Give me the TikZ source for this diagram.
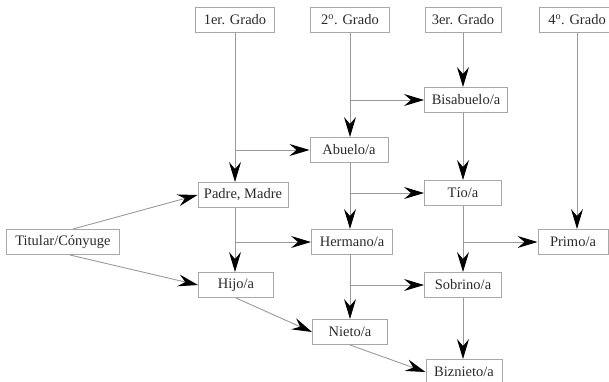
\documentclass[tikz,border=0pt]{standalone}
\usepackage{fontspec}
\setmainfont{Liberation Serif}
\usetikzlibrary{arrows.meta}
\definecolor{boxc}{HTML}{A8A8A8}
\definecolor{linec}{HTML}{9A9A9A}
\definecolor{txtc}{HTML}{2A2A2A}
\begin{document}
\begin{tikzpicture}[x=1pt,y=-1pt,
  box/.style={draw=boxc, line width=1pt, rectangle, minimum height=25pt, inner xsep=4pt, inner ysep=2pt,
    font=\fontsize{14.5}{16}\selectfont, text=txtc},
  conn/.style={draw=linec, line width=0.9pt, -{Stealth[length=20pt,width=12pt,inset=7pt,fill=black,color=black]}},
  plain/.style={draw=linec, line width=0.9pt}]
\useasboundingbox (0,0) rectangle (609,381);
\clip (0,0) rectangle (609,381);
% nodes
\node[box, minimum width=79pt] (g1) at (235,20) {1er. Grado};
\node[box, minimum width=79pt] (g2) at (350,20) {2\textsuperscript{o}. Grado};
\node[box, minimum width=76pt] (g3) at (463,20) {3er. Grado};
\node[box, minimum width=76pt] (g4) at (577,20) {4\textsuperscript{o}. Grado};
\node[box, minimum width=83pt] (bis) at (466,100) {Bisabuelo/a};
\node[box, minimum width=78pt] (abu) at (349,150) {Abuelo/a};
\node[box, minimum width=77pt] (tio) at (463,193) {Tío/a};
\node[box, minimum width=90pt] (padre) at (243,195) {Padre, Madre};
\node[box, minimum width=113pt] (tit) at (63,242) {Titular/Cónyuge};
\node[box, minimum width=75pt] (hijo) at (236,285) {Hijo/a};
\node[box, minimum width=81pt] (herm) at (352,242) {Hermano/a};
\node[box, minimum width=70pt] (primo) at (573,242) {Primo/a};
\node[box, minimum width=77pt] (sob) at (463,285) {Sobrino/a};
\node[box, minimum width=75pt] (nieto) at (350,332) {Nieto/a};
\node[box, minimum width=76pt] (biz) at (464,372) {Biznieto/a};
% vertical trunks
\draw[conn] (g1.south) -- (g1 |- padre.north);
\draw[conn] (g1 |- padre.south) -- (g1 |- hijo.north);
\draw[conn] (g2.south) -- (g2 |- abu.north);
\draw[conn] (g2 |- abu.south) -- (g2 |- herm.north);
\draw[conn] (g2 |- herm.south) -- (g2 |- nieto.north);
\draw[conn] (g3.south) -- (g3 |- bis.north);
\draw[conn] (g3 |- bis.south) -- (g3 |- tio.north);
\draw[conn] (g3 |- tio.south) -- (g3 |- sob.north);
\draw[conn] (g3 |- sob.south) -- (g3 |- biz.north);
\draw[conn] (g4.south) -- (g4 |- primo.north);
% branches
\draw[conn] (g1 |- abu.west) -- (abu.west);
\draw[conn] (g2 |- bis.west) -- (bis.west);
\draw[conn] (g2 |- tio.west) -- (tio.west);
\draw[conn] (g1 |- herm.west) -- (herm.west);
\draw[conn] (g3 |- primo.west) -- (primo.west);
\draw[conn] (g2 |- sob.west) -- (sob.west);
% diagonals
\draw[conn] ([xshift=10pt]tit.north) -- (padre.west);
\draw[conn] ([xshift=7pt]tit.south) -- (hijo.west);
\draw[conn] (hijo.south) -- (nieto.west);
\draw[conn] (nieto.south) -- (biz.west);
\end{tikzpicture}
\end{document}
